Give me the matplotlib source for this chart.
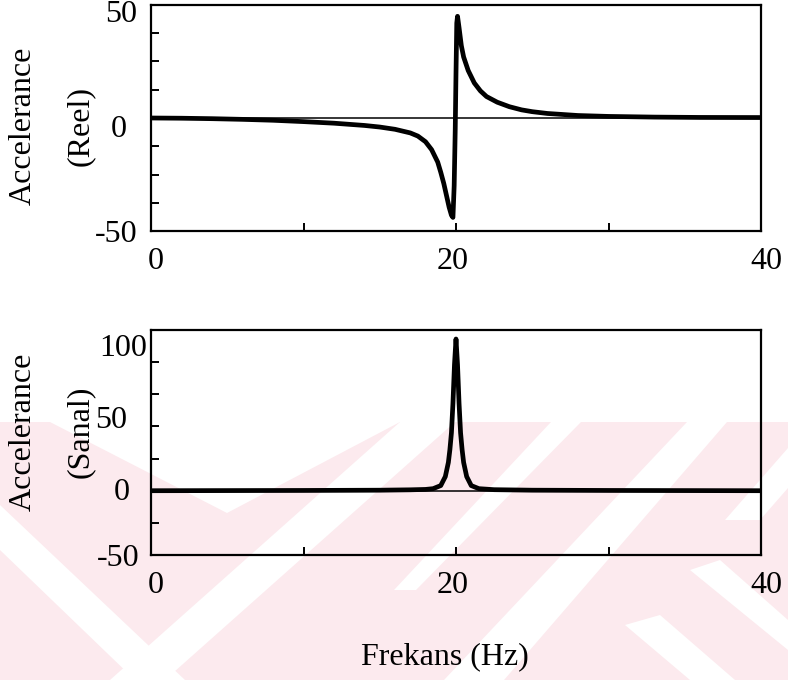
import matplotlib
matplotlib.use("Agg")
import matplotlib.pyplot as plt
from matplotlib.ticker import FixedLocator, NullFormatter
from matplotlib.patches import Polygon
from matplotlib.transforms import ScaledTranslation

# ---- data ----
freq_re = [0, 2, 4, 6, 8, 10, 12, 14, 15, 16, 17, 17.5, 18, 18.4, 18.8, 19.0,
           19.2, 19.4, 19.55, 19.7, 19.8, 19.88, 19.95, 20.0, 20.05, 20.1, 20.2,
           20.35, 20.5, 20.8, 21.2, 21.6, 22.0, 22.7, 23.5, 24.3, 25, 26, 28,
           30, 33, 36, 40]
accel_real = [0, -0.1, -0.3, -0.6, -1.0, -1.6, -2.3, -3.3, -4.0, -5.0, -6.6,
              -8.0, -10.5, -14, -19.5, -24, -29, -35, -39.5, -43, -44, -30, -5,
              20, 42, 45, 40, 32, 27, 21, 15.5, 12, 9.5, 7, 5, 3.6, 2.8, 2.0,
              1.1, 0.7, 0.4, 0.25, 0.2]

freq_im = [0, 5, 10, 15, 17, 18, 18.5, 19.0, 19.3, 19.5, 19.6, 19.7, 19.8,
           19.9, 20.0, 20.1, 20.2, 20.3, 20.4, 20.5, 20.7, 21.0, 21.5, 22.5,
           25, 30, 35, 40]
accel_imag = [0, 0.1, 0.2, 0.4, 0.7, 1.0, 1.6, 4, 11, 22, 32, 45, 68, 98,
              118, 98, 68, 45, 32, 22, 11, 4, 1.6, 0.8, 0.4, 0.2, 0.1, 0]

x_ticks = [0, 10, 20, 30, 40]
x_labels = ["0", "20", "40"]
top_yticks = [-50, -37.5, -25, -12.5, 0, 12.5, 25, 37.5, 50]
top_ylabels = ["-50", "0", "50"]
bot_yticks = [-50, -25, 0, 25, 50, 75, 100, 125]
bot_ylabels = ["-50", "0", "50", "100"]

FONT = "Liberation Serif"
FS = 23
W, H = 788, 680
fig = plt.figure(figsize=(W / 100, H / 100), dpi=100)

# ---- faint background watermark (pixel coordinates) ----
PINK = "#FCEAEE"
def fig_poly(pts, color):
    p = Polygon([(x / W, 1 - y / H) for x, y in pts], closed=True,
                transform=fig.transFigure, facecolor=color, edgecolor="none",
                zorder=-10)
    fig.patches.append(p)

fig_poly([(0, 422), (W, 422), (W, H), (0, H)], PINK)
white_shapes = [
    [(50, 422), (400, 422), (227, 513)],
    [(400, 422), (455, 422), (165, 680), (110, 680)],
    [(0, 505), (185, 680), (135, 680), (0, 550)],
    [(394, 590), (416, 590), (581, 422), (551, 422)],
    [(444, 680), (504, 680), (727, 422), (687, 422)],
    [(725, 520), (760, 520), (788, 488), (788, 448)],
    [(625, 625), (660, 615), (735, 680), (690, 680)],
    [(690, 570), (720, 560), (788, 620), (788, 650)],
]
for shp in white_shapes:
    fig_poly(shp, "white")

def px_axes(l, t, r, b):
    return fig.add_axes([l / W, 1 - b / H, (r - l) / W, (b - t) / H])

ax1 = px_axes(151, 5, 761, 231)
ax2 = px_axes(151, 330, 761, 555)

def off(dx, dy):
    # offset in pixels (dpi = 100): +dx right, +dy down
    return ScaledTranslation(dx / 100, -dy / 100, fig.dpi_scale_trans)

# label placement offsets (pixels), matching the reference typesetting
top_ylab_off = {"-50": (-13, 0), "0": (-24, 8), "50": (-14, 6)}
bot_ylab_off = {"-50": (-11, 0), "0": (-21, -2), "50": (-24, -9), "100": (-4, -17)}
xlab_off = {"0": (4.5, 27), "20": (-3, 27), "40": (5, 27)}

panels = [
    (ax1, freq_re, accel_real, top_yticks, top_ylabels, top_ylab_off, (-50, 50)),
    (ax2, freq_im, accel_imag, bot_yticks, bot_ylabels, bot_ylab_off, (-50, 125)),
]
for ax, xs, ys, yt, ylabs, yoff, ylim in panels:
    ax.set_facecolor("none")
    ax.axhline(0, color="black", lw=1.1, zorder=2)
    ax.plot(xs, ys, color="black", lw=3.4, solid_joinstyle="round",
            solid_capstyle="round", zorder=3)
    ax.set_xlim(0, 40)
    ax.set_ylim(*ylim)
    ax.xaxis.set_major_locator(FixedLocator(x_ticks))
    ax.yaxis.set_major_locator(FixedLocator(yt))
    ax.xaxis.set_major_formatter(NullFormatter())
    ax.yaxis.set_major_formatter(NullFormatter())
    ax.tick_params(axis="both", direction="in", length=6, width=1.4,
                   top=False, right=False)
    for sp in ax.spines.values():
        sp.set_linewidth(1.6)
    for lab in ylabs:
        dx, dy = yoff[lab]
        ax.text(0, float(lab), lab, family=FONT, fontsize=FS, ha="right",
                va="center_baseline",
                transform=ax.get_yaxis_transform() + off(dx, dy))
    for lab in x_labels:
        dx, dy = xlab_off[lab]
        ax.text(float(lab), 0, lab, family=FONT, fontsize=FS, ha="center",
                va="center_baseline",
                transform=ax.get_xaxis_transform() + off(dx, dy))

def ftext(x, y, s, **kw):
    fig.text(x / W, 1 - y / H, s, family=FONT, fontsize=FS,
             ha="center", va="center", **kw)

ftext(23, 126, "Accelerance", rotation=90)
ftext(80, 126, "(Reel)", rotation=90)
ftext(23, 432, "Accelerance", rotation=90)
ftext(80, 432, "(Sanal)", rotation=90)
ftext(445, 657, "Frekans (Hz)")

fig.savefig("out.png", dpi=100)
